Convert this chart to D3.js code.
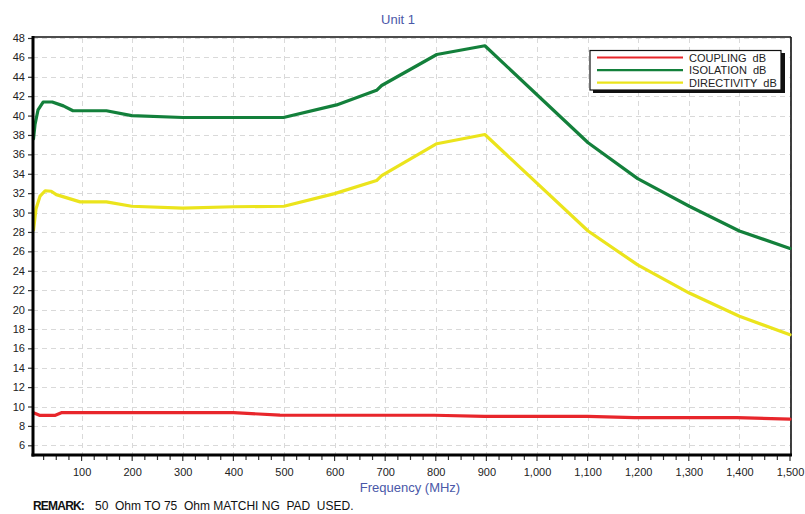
<!DOCTYPE html>
<html><head><meta charset="utf-8">
<script src="https://cdn.jsdelivr.net/npm/d3@7"></script>
<style>
body{margin:0;background:#fff;}
svg{display:block;font-family:"Liberation Sans",Arial,sans-serif;}
</style></head>
<body>
<svg id="c" width="805" height="514"></svg>
<script>
const title = "Unit 1";
const xLabel = "Frequency (MHz)";
const seriesNames = ["COUPLING  dB", "ISOLATION  dB", "DIRECTIVITY  dB"];
const seriesColors = ["#e8262b", "#13803b", "#ebe41c"];
const xTicks = [100,200,300,400,500,600,700,800,900,1000,1100,1200,1300,1400,1500];
const yTicks = [6,8,10,12,14,16,18,20,22,24,26,28,30,32,34,36,38,40,42,44,46,48];

const couplingF = [5, 18, 47, 60, 400, 492, 797, 896, 1100, 1192, 1395, 1500];
const couplingV = [9.36, 9.08, 9.08, 9.36, 9.36, 9.12, 9.1, 8.98, 8.98, 8.86, 8.86, 8.7];

const isolationF = [5, 8, 14, 24, 42, 64, 83, 149, 199, 300, 400, 499, 604, 683, 693, 802, 897, 1101, 1199, 1301, 1400, 1500];
const isolationV = [37.6, 39.1, 40.6, 41.4, 41.4, 41.0, 40.5, 40.5, 40.0, 39.8, 39.8, 39.8, 41.1, 42.6, 43.1, 46.3, 47.2, 37.2, 33.5, 30.65, 28.1, 26.3];

const directivityF = [5, 10, 18, 28, 40, 50, 97, 149, 199, 300, 400, 500, 600, 683, 693, 802, 897, 1101, 1199, 1301, 1400, 1500];
const directivityV = [28.2, 30.4, 31.7, 32.25, 32.2, 31.85, 31.1, 31.1, 30.65, 30.45, 30.6, 30.65, 31.95, 33.3, 33.8, 37.1, 38.05, 28.1, 24.6, 21.7, 19.3, 17.4];

const svg = d3.select("#c");
const L = 33, R = 790, T = 38, B = 455;
const x = d3.scaleLinear().domain([4, 1500]).range([L, R]);
const y = d3.scaleLinear().domain([5, 48]).range([B, T]);

// grid
const grid = svg.append("g").attr("stroke", "#d9d9d9").attr("stroke-width", 1).attr("stroke-dasharray", "5,4");
grid.selectAll("line.v").data(xTicks).join("line")
  .attr("x1", d => Math.round(x(d)) + 0.5).attr("x2", d => Math.round(x(d)) + 0.5)
  .attr("y1", T).attr("y2", B);
grid.selectAll("line.h").data(yTicks).join("line")
  .attr("y1", d => Math.round(y(d)) + 0.5).attr("y2", d => Math.round(y(d)) + 0.5)
  .attr("x1", L).attr("x2", R);

// frame top/right
svg.append("line").attr("x1", L).attr("x2", R + 1).attr("y1", T - 1).attr("y2", T - 1).attr("stroke", "#111").attr("stroke-width", 1.6);
svg.append("line").attr("x1", R + 1).attr("x2", R + 1).attr("y1", T - 1).attr("y2", B).attr("stroke", "#111").attr("stroke-width", 1.6);

// series
const line = d3.line().x(d => x(d[0])).y(d => y(d[1]));
const series = [
  d3.zip(couplingF, couplingV),
  d3.zip(isolationF, isolationV),
  d3.zip(directivityF, directivityV)
];
const order = [2, 1, 0];
order.forEach(i => {
  svg.append("path").datum(series[i]).attr("d", line)
    .attr("fill", "none").attr("stroke", seriesColors[i]).attr("stroke-width", 3.2)
    .attr("stroke-linejoin", "round").attr("stroke-linecap", "round");
});

// y axis
const yAxis = d3.axisLeft(y).tickValues(yTicks).tickSize(5).tickPadding(3);
const ya = svg.append("g").attr("transform", `translate(${L},0)`).call(yAxis);
ya.select(".domain").remove();
ya.selectAll("line").attr("stroke", "#333").attr("stroke-width", 1.2);
ya.selectAll("text").attr("font-size", 11).attr("fill", "#222").attr("font-family", "Liberation Sans, Arial, sans-serif");

// x axis minor ticks
const minor = d3.range(25, 1501, 25);
svg.append("g").selectAll("line").data(minor).join("line")
  .attr("x1", d => x(d)).attr("x2", d => x(d))
  .attr("y1", B).attr("y2", d => d % 100 === 0 ? B + 6 : B + 5)
  .attr("stroke", "#333").attr("stroke-width", 1.2);
const xAxis = d3.axisBottom(x).tickValues(xTicks).tickSize(0).tickPadding(13).tickFormat(d3.format(","));
const xa = svg.append("g").attr("transform", `translate(0,${B})`).call(xAxis);
xa.select(".domain").remove();
xa.selectAll("text").attr("font-size", 11).attr("fill", "#222").attr("font-family", "Liberation Sans, Arial, sans-serif");

// thick left/bottom axes
svg.append("line").attr("x1", L).attr("x2", L).attr("y1", T - 2).attr("y2", B + 1.5).attr("stroke", "#000").attr("stroke-width", 3);
svg.append("line").attr("x1", L - 1.5).attr("x2", R + 2).attr("y1", B).attr("y2", B).attr("stroke", "#000").attr("stroke-width", 3);

// title and labels
svg.append("text").attr("x", 398).attr("y", 24).attr("text-anchor", "middle")
  .attr("font-size", 13).attr("fill", "#4a58a8").text(title);
svg.append("text").attr("x", 410).attr("y", 492).attr("text-anchor", "middle")
  .attr("font-size", 13).attr("fill", "#4a58a8").text(xLabel);

const rem = svg.append("text").attr("x", 33).attr("y", 510).attr("font-size", 12).attr("fill", "#111")
  .attr("xml:space", "preserve").style("white-space", "pre");
rem.append("tspan").attr("font-weight", "bold").attr("letter-spacing", -0.8).text("REMARK:");
rem.append("tspan").attr("x", 95).attr("letter-spacing", 0).text("50  Ohm TO 75  Ohm MATCHI NG  PAD  USED.");

// legend
const lg = svg.append("g");
lg.append("rect").attr("x", 593).attr("y", 53).attr("width", 192).attr("height", 40).attr("fill", "#111");
lg.append("rect").attr("x", 590).attr("y", 50.5).attr("width", 191).attr("height", 39.5).attr("fill", "#fff").attr("stroke", "#111").attr("stroke-width", 1.2);
seriesNames.forEach((n, i) => {
  const yy = 57.5 + i * 12.6;
  lg.append("line").attr("x1", 597).attr("x2", 683).attr("y1", yy).attr("y2", yy)
    .attr("stroke", seriesColors[i]).attr("stroke-width", 2.2);
  lg.append("text").attr("x", 689).attr("y", yy + 4).attr("font-size", 11).attr("fill", "#222")
    .attr("xml:space", "preserve").style("white-space", "pre").text(n);
});
</script>
</body></html>
